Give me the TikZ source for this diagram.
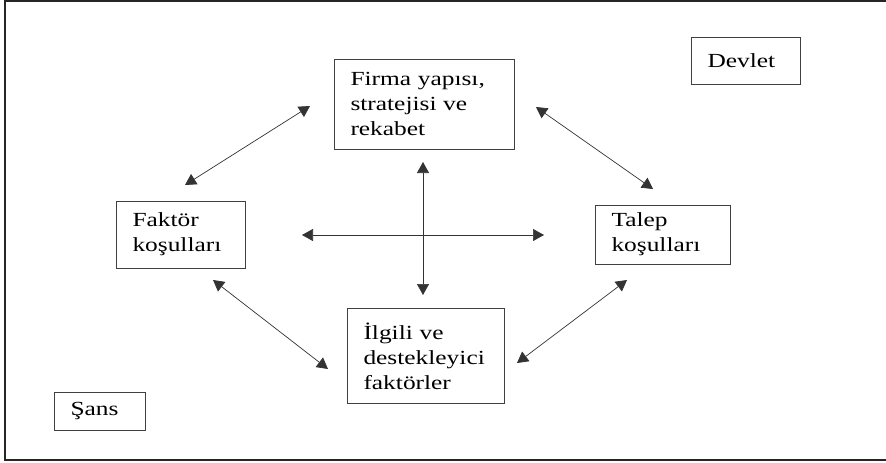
\documentclass[tikz,border=0pt]{standalone}
\usepackage{fontspec}
\setmainfont[FakeStretch=1.27]{Liberation Serif}
\usetikzlibrary{arrows.meta}

\tikzset{
  box/.style={draw=black!75, line width=0.8pt, align=left, inner xsep=16.5pt,
    inner ysep=0pt, font=\fontsize{20}{25}\selectfont},
  link/.style={{Triangle[length=11pt,width=12pt]}-{Triangle[length=11pt,width=12pt]},
    draw=black!80, line width=0.7pt}
}

\begin{document}
\begin{tikzpicture}[x=1pt, y=-1pt]
  \useasboundingbox (0,0) rectangle (886,463);
  % frame (right side runs off the page)
  \draw[line width=1.6pt, black!85] (886,1) -- (5,1) -- (5,460) -- (886,460);

  \node[box, text width=147pt, minimum height=90pt] (firma) at (424,104)
    {Firma yapısı,\\ stratejisi ve\\ rekabet};
  \node[box, text width=76pt, minimum height=47pt] (devlet) at (745.5,61)
    {Devlet};
  \node[box, text width=96pt, minimum height=67pt] (faktor) at (180.5,234.5)
    {Faktör\\ koşulları};
  \node[box, text width=102pt, minimum height=59pt] (talep) at (662.5,234.5)
    {Talep\\ koşulları};
  \node[box, text width=124pt, minimum height=95pt] (ilgili) at (425.5,356)
    {İlgili ve\\ destekleyici\\ faktörler};
  \node[box, text width=58pt, minimum height=38pt] (sans) at (99.5,411.5)
    {Şans};

  % arrow ends
  \coordinate (fa1) at (185,185);  \coordinate (fa2) at (310,106);
  \coordinate (ft1) at (536,107);  \coordinate (ft2) at (653,189);
  \coordinate (h1)  at (302,235);  \coordinate (h2)  at (544,235);
  \coordinate (v1)  at (423,162);  \coordinate (v2)  at (423,295);
  \coordinate (fi1) at (213,280);  \coordinate (fi2) at (328,369);
  \coordinate (it1) at (517,363);  \coordinate (it2) at (627,280);

  \draw[link] (fa1) -- (fa2);
  \draw[link] (ft1) -- (ft2);
  \draw[link] (h1) -- (h2);
  \draw[link] (v1) -- (v2);
  \draw[link] (fi1) -- (fi2);
  \draw[link] (it1) -- (it2);
\end{tikzpicture}
\end{document}
